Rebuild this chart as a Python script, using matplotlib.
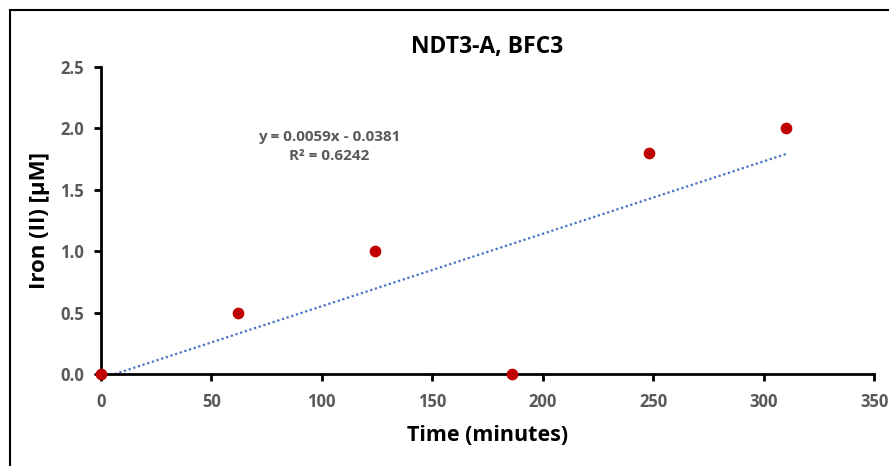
import matplotlib
matplotlib.use("Agg")
import matplotlib.pyplot as plt
import numpy as np
from matplotlib.patches import Rectangle

plt.rcParams['font.family'] = ['Open Sans', 'DejaVu Sans']

time_min = [0, 62, 124, 186, 248, 310]
iron_uM = [0.0, 0.5, 1.0, 0.0, 1.8, 2.0]
slope = 0.0059
intercept = -0.0381
r2 = 0.6242
x_ticks = [0, 50, 100, 150, 200, 250, 300, 350]
y_ticks = [0.0, 0.5, 1.0, 1.5, 2.0, 2.5]

fig = plt.figure(figsize=(8.89, 4.66), dpi=100)
ax = fig.add_axes([0.1133, 0.1974, 0.9834 - 0.1133, 0.8562 - 0.1974])

# trendline
xt = np.linspace(min(time_min), max(time_min), 200)
ax.plot(xt, slope * xt + intercept, linestyle=(0, (1, 1.2)), color='#4472C4', lw=1.6, zorder=2)
ax.scatter(time_min, iron_uM, s=55, color='#C00000', zorder=3, clip_on=False)

ax.set_xlim(0, 350)
ax.set_ylim(0, 2.5)
ax.set_xticks(x_ticks)
ax.set_yticks(y_ticks)
ax.set_yticklabels([f"{v:.1f}" for v in y_ticks])
for s in ['top', 'right']:
    ax.spines[s].set_visible(False)
for s in ['left', 'bottom']:
    ax.spines[s].set_linewidth(2)
    ax.spines[s].set_color('black')
ax.tick_params(direction='out', length=5, width=2, colors='black', labelcolor='#595959', labelsize=12)
ax.tick_params(axis='x', pad=9)
ax.tick_params(axis='y', pad=7)
for lab in ax.get_xticklabels() + ax.get_yticklabels():
    lab.set_fontweight('bold')

ax.set_title("NDT3-A, BFC3", fontsize=16.5, fontweight='bold', color='black', pad=10)
ax.set_xlabel("Time (minutes)", fontsize=15.5, fontweight='bold', color='black', labelpad=10)
ax.set_ylabel("Iron (II) [μM]", fontsize=16, fontweight='bold', color='black', labelpad=7)

ax.text(103.3, 1.853, f"y = {slope}x - {abs(intercept)}\nR² = {r2}", ha='center', va='center',
        fontsize=11, fontweight='bold', color='#595959', linespacing=1.5)

fig.patches.append(Rectangle((10 / 889, -0.1), 1.2, (466 - 10) / 466 + 0.1,
                             transform=fig.transFigure, fill=False, edgecolor='black', lw=1.5))

fig.savefig("out.png", dpi=100)
